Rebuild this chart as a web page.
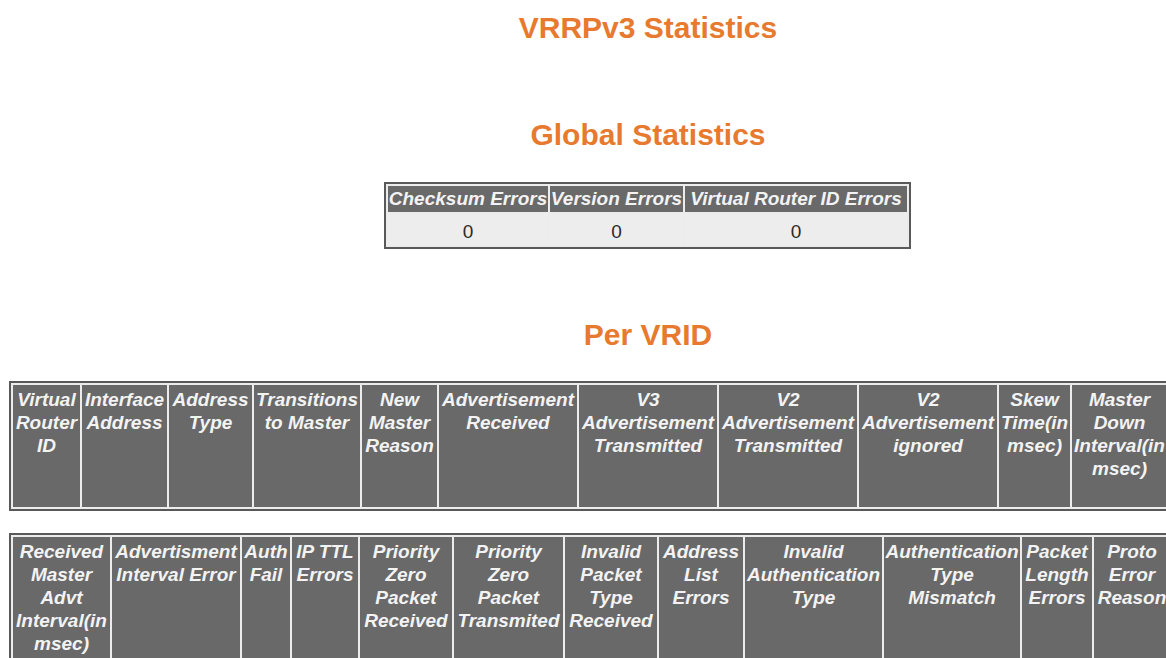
<!DOCTYPE html>
<html>
<head>
<meta charset="utf-8">
<title>VRRPv3 Statistics</title>
<script src="https://cdn.jsdelivr.net/npm/chart.js@4.4.1/dist/chart.umd.min.js"></script>
<style>
  html, body { margin: 0; padding: 0; background: #fff; }
  body { width: 1166px; height: 658px; overflow: hidden; position: relative;
         font-family: "Liberation Sans", Arial, sans-serif; }
  .title { position: absolute; left: 0; width: 1296px; text-align: center;
           font-size: 30px; line-height: 30px; font-weight: bold; color: #e77a2e; }
  table { position: absolute; table-layout: fixed; border-collapse: separate;
          border-spacing: 2px; border: 2px solid #595959; background: #ececec; }
  th { box-sizing: border-box; padding: 3px 0 0 0; background: #696969; color: #f3f3f3;
       font-size: 19px; line-height: 23px; font-weight: bold; font-style: italic;
       text-align: center; vertical-align: top; white-space: pre; overflow: visible; }
  td { box-sizing: border-box; background: #ededed; color: #2a2a2a; font-size: 19px;
       text-align: center; vertical-align: middle; padding: 4px 0 0 0; }
  #global th { padding: 0; vertical-align: middle; height: 26px; line-height: 22px; }
  #global td { height: 31px; }
  #vrid1 th { height: 122px; }
  #vrid2 th { height: 150px; }
</style>
</head>
<body>
<div class="title" style="top:13px">VRRPv3 Statistics</div>
<div class="title" style="top:120px">Global Statistics</div>
<div class="title" style="top:320px">Per VRID</div>

<table id="global" style="left:384px; top:182px"></table>
<table id="vrid1" style="left:9px; top:381px"></table>
<table id="vrid2" style="left:9px; top:533px"></table>

<script>
// Global statistics
const globalHeaders = ['Checksum Errors', 'Version Errors', 'Virtual Router ID Errors'];
const globalValues = [0, 0, 0];
const globalWidths = [160, 133, 222];

// Per VRID, first table (line breaks as shown)
const vridHeaders1 = [
  'Virtual\nRouter\nID',
  'Interface\nAddress',
  'Address\nType',
  'Transitions\nto Master',
  'New\nMaster\nReason',
  'Advertisement\nReceived',
  'V3\nAdvertisement\nTransmitted',
  'V2\nAdvertisement\nTransmitted',
  'V2\nAdvertisement\nignored',
  'Skew\nTime(in\nmsec)',
  'Master\nDown\nInterval(in\nmsec)'
];
const vridWidths1 = [67, 85, 83, 106, 75, 138, 138, 138, 138, 71, 95];

// Per VRID, second table
const vridHeaders2 = [
  'Received\nMaster\nAdvt\nInterval(in\nmsec)',
  'Advertisment\nInterval Error',
  'Auth\nFail',
  'IP TTL\nErrors',
  'Priority\nZero\nPacket\nReceived',
  'Priority\nZero\nPacket\nTransmited',
  'Invalid\nPacket\nType\nReceived',
  'Address\nList\nErrors',
  'Invalid\nAuthentication\nType',
  'Authentication\nType\nMismatch',
  'Packet\nLength\nErrors',
  'Proto\nError\nReason'
];
const vridWidths2 = [97, 128, 48, 66, 92, 109, 92, 84, 137, 136, 70, 76];

function buildTable(id, headers, widths, values) {
  const table = document.getElementById(id);
  const total = widths.reduce((a, b) => a + b, 0) + 2 * (widths.length + 1);
  table.style.width = (total + 4) + 'px';
  const colgroup = document.createElement('colgroup');
  widths.forEach(w => {
    const col = document.createElement('col');
    col.style.width = w + 'px';
    colgroup.appendChild(col);
  });
  table.appendChild(colgroup);
  const head = document.createElement('tr');
  headers.forEach((h, i) => {
    const th = document.createElement('th');
    th.textContent = h;
    th.style.width = widths[i] + 'px';
    head.appendChild(th);
  });
  table.appendChild(head);
  if (values) {
    const row = document.createElement('tr');
    values.forEach(v => {
      const td = document.createElement('td');
      td.textContent = v;
      row.appendChild(td);
    });
    table.appendChild(row);
  }
}

buildTable('global', globalHeaders, globalWidths, globalValues);
buildTable('vrid1', vridHeaders1, vridWidths1);
buildTable('vrid2', vridHeaders2, vridWidths2);
</script>
</body>
</html>
